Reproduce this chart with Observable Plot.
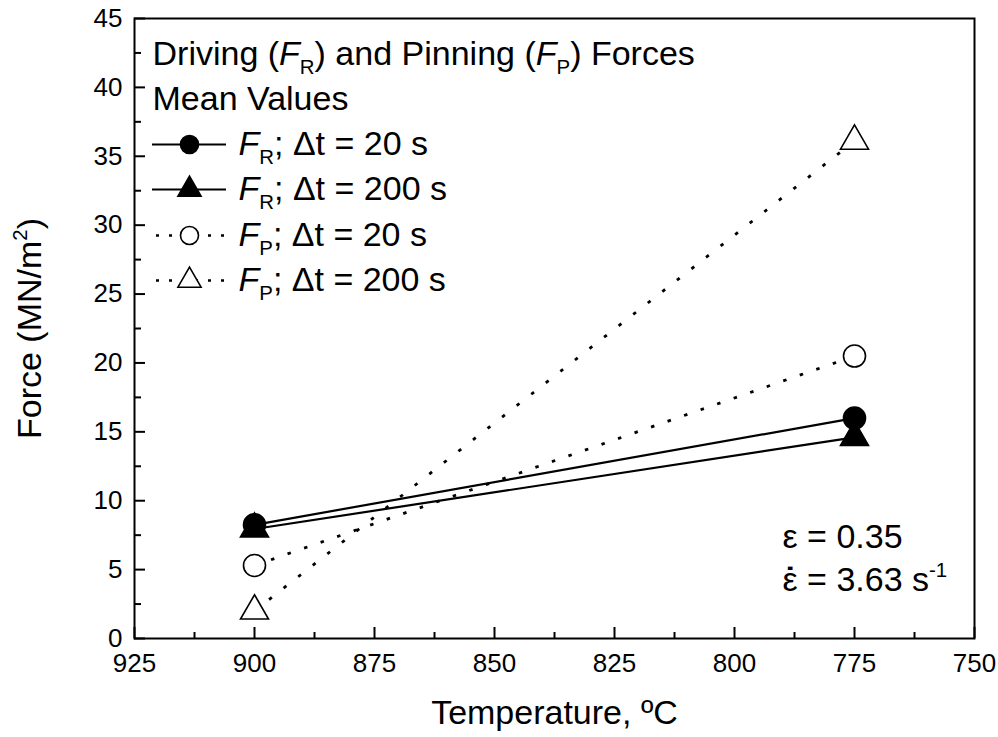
<!DOCTYPE html>
<html>
<head>
<meta charset="utf-8">
<script src="https://cdn.jsdelivr.net/npm/d3@7"></script>
<script src="https://cdn.jsdelivr.net/npm/@observablehq/plot@0.6"></script>
<style>
  html, body { margin: 0; padding: 0; background: #fff; }
  #chart svg { display: block; }
</style>
</head>
<body>
<div id="chart"></div>
<script>
// ---- data ----
const temperatures = [900, 775];
const forceFR20 = [8.25, 16.0];
const forceFR200 = [7.95, 14.6];
const forceFP20 = [5.3, 20.5];
const forceFP200 = [2.0, 36.1];

const seriesLabels = [
  "<i>F</i><sub>R</sub>; Δt = 20 s",
  "<i>F</i><sub>R</sub>; Δt = 200 s",
  "<i>F</i><sub>P</sub>; Δt = 20 s",
  "<i>F</i><sub>P</sub>; Δt = 200 s"
];
const legendTitle = [
  "Driving (<i>F</i><sub>R</sub>) and Pinning (<i>F</i><sub>P</sub>) Forces",
  "Mean Values"
];
const annotationLines = ["ε = 0.35", "<dot>ε</dot> = 3.63 s<sup>-1</sup>"];

const xTicks = [925, 900, 875, 850, 825, 800, 775, 750];
const xMinorTicks = [912.5, 887.5, 862.5, 837.5, 812.5, 787.5, 762.5];
const yTicks = [0, 5, 10, 15, 20, 25, 30, 35, 40, 45];
const yMinorTicks = [2.5, 7.5, 12.5, 17.5, 22.5, 27.5, 32.5, 37.5, 42.5];
const xLabel = "Temperature, ºC";
const yLabel = "Force (MN/m<sup>2</sup>)";

// ---- layout & styles ----
const W = 998, H = 737;
const ML = 134, MR = 24, MT = 18, MB = 99;
const plotW = W - ML - MR, plotH = H - MT - MB;
const LEGEND_FONT = 34, NOTE_FONT = 34, TITLE_FONT = 34, TICK_FONT = 26;

const seriesStyle = [
  {values: forceFR20,  symbol: "circle",   fill: "black", dash: null, r: 11, lr: 9},
  {values: forceFR200, symbol: "triangle", fill: "black", dash: null, r: 10.4, lr: 8.6},
  {values: forceFP20,  symbol: "circle",   fill: "white", dash: "3.5,14", r: 11, lr: 9},
  {values: forceFP200, symbol: "triangle", fill: "white", dash: "3.5,15", r: 10.4, lr: 8.6}
];

const series = seriesStyle.map((s, k) => ({
  ...s,
  label: seriesLabels[k],
  rows: temperatures.map((t, i) => ({temperature: t, force: s.values[i]}))
}));

const marks = [];

// data lines (dotted first, then solid)
for (const s of [...series].reverse()) {
  marks.push(Plot.line(s.rows, {
    x: "temperature", y: "force", stroke: "black",
    strokeWidth: s.dash ? 2.8 : 2.2,
    strokeDasharray: s.dash || undefined,
    strokeLinecap: "butt"
  }));
}
// data markers (open first, then filled)
for (const s of [...series].reverse()) {
  marks.push(Plot.dot(s.rows, {
    x: "temperature", y: "force", symbol: s.symbol, r: s.r,
    fill: s.fill, stroke: "black", strokeWidth: 1.6
  }));
}

// axes: ticks inward
marks.push(Plot.tickX(xTicks, {x: d => d, insetTop: plotH - 11, stroke: "black", strokeWidth: 2}));
marks.push(Plot.tickX(xMinorTicks, {x: d => d, insetTop: plotH - 6, stroke: "black", strokeWidth: 2}));
marks.push(Plot.tickY(yTicks, {y: d => d, insetRight: plotW - 11, stroke: "black", strokeWidth: 2}));
marks.push(Plot.tickY(yMinorTicks, {y: d => d, insetRight: plotW - 7, stroke: "black", strokeWidth: 2}));
marks.push(Plot.axisX(xTicks, {tickSize: 0, tickPadding: 15, fontSize: TICK_FONT, label: null}));
marks.push(Plot.axisY(yTicks, {tickSize: 0, tickPadding: 12, fontSize: TICK_FONT, label: null}));
marks.push(Plot.frame({stroke: "black", strokeWidth: 2}));

// axis titles
marks.push(Plot.text([xLabel], {frameAnchor: "bottom", dy: 75, fontSize: TITLE_FONT, textAnchor: "middle", lineAnchor: "middle"}));
marks.push(Plot.text([yLabel], {frameAnchor: "left", dx: -104, rotate: -90, fontSize: TITLE_FONT, textAnchor: "middle", lineAnchor: "middle"}));

// in-plot legend (pixel layout relative to frame top-left)
const LEG_X = 18, TITLE_DY = [36, 81], ROW_DY = [126, 171, 217, 262];
legendTitle.forEach((t, i) => {
  marks.push(Plot.text([t], {frameAnchor: "top-left", dx: LEG_X, dy: TITLE_DY[i], textAnchor: "start", fontSize: LEGEND_FONT, lineAnchor: "middle"}));
});
series.forEach((s, i) => {
  marks.push(Plot.ruleY([0], {
    dy: -(plotH - ROW_DY[i]), insetLeft: s.dash ? LEG_X + 4 : LEG_X, insetRight: plotW - 92,
    stroke: "black", strokeWidth: s.dash ? 2.6 : 2.2,
    strokeDasharray: s.dash ? "3,10" : undefined
  }));
  marks.push(Plot.dot([s.label], {
    frameAnchor: "top-left", dx: 55, dy: ROW_DY[i], symbol: s.symbol, r: s.lr,
    fill: s.fill, stroke: "black", strokeWidth: 1.6
  }));
  marks.push(Plot.text([s.label], {frameAnchor: "top-left", dx: 104, dy: ROW_DY[i], textAnchor: "start", fontSize: LEGEND_FONT, lineAnchor: "middle"}));
});

// annotation (strain and strain rate)
const NOTE_X = 648, NOTE_DY = [519, 562];
annotationLines.forEach((t, i) => {
  marks.push(Plot.text([t], {frameAnchor: "top-left", dx: NOTE_X, dy: NOTE_DY[i], textAnchor: "start", fontSize: NOTE_FONT, lineAnchor: "middle"}));
});

const chart = Plot.plot({
  width: W, height: H,
  marginLeft: ML, marginRight: MR, marginTop: MT, marginBottom: MB,
  style: {background: "white", color: "black", fontFamily: "'Liberation Sans', Arial, sans-serif"},
  x: {domain: [925, 750], axis: null},
  y: {domain: [0, 45], axis: null},
  marks
});
document.getElementById("chart").appendChild(chart);

// rich text: italic, subscript, superscript, dot-above via tspans
const NS = "http://www.w3.org/2000/svg";
function measure(str, fs, parent) {
  const t = document.createElementNS(NS, "text");
  t.setAttribute("font-size", fs);
  t.textContent = str;
  parent.appendChild(t);
  const w = t.getComputedTextLength();
  t.remove();
  return w;
}
chart.querySelectorAll("text").forEach(t => {
  const s = t.textContent;
  if (!/<(i|sub|sup|dot)>/.test(s)) return;
  const fs = parseFloat(getComputedStyle(t).fontSize) || 30;
  t.textContent = "";
  let shift = 0, pendingDx = 0;
  const parts = s.split(/(<i>.*?<\/i>|<sub>.*?<\/sub>|<sup>.*?<\/sup>|<dot>.*?<\/dot>)/).filter(p => p);
  for (const p of parts) {
    let m, target = 0, txt = p;
    const ts = document.createElementNS(NS, "tspan");
    if ((m = p.match(/^<dot>(.*)<\/dot>$/))) {
      const base = m[1], dotChar = "˙";
      const bw = measure(base, fs, t.parentNode), dw = measure(dotChar, fs, t.parentNode);
      ts.textContent = base;
      if (pendingDx) { ts.setAttribute("dx", pendingDx); }
      t.appendChild(ts);
      const dt = document.createElementNS(NS, "tspan");
      dt.setAttribute("dx", -(bw + dw) / 2);
      dt.setAttribute("font-weight", "bold");
      dt.textContent = dotChar;
      t.appendChild(dt);
      pendingDx = (bw - dw) / 2;
      continue;
    }
    if ((m = p.match(/^<i>(.*)<\/i>$/))) { txt = m[1]; ts.setAttribute("font-style", "italic"); }
    else if ((m = p.match(/^<sub>(.*)<\/sub>$/))) { txt = m[1]; ts.setAttribute("font-size", 0.6 * fs); target = 0.24 * fs; }
    else if ((m = p.match(/^<sup>(.*)<\/sup>$/))) { txt = m[1]; ts.setAttribute("font-size", 0.6 * fs); target = -0.42 * fs; }
    if (target !== shift) { ts.setAttribute("dy", target - shift); shift = target; }
    if (pendingDx) { ts.setAttribute("dx", pendingDx); pendingDx = 0; }
    ts.textContent = txt;
    t.appendChild(ts);
  }
});
</script>
</body>
</html>
